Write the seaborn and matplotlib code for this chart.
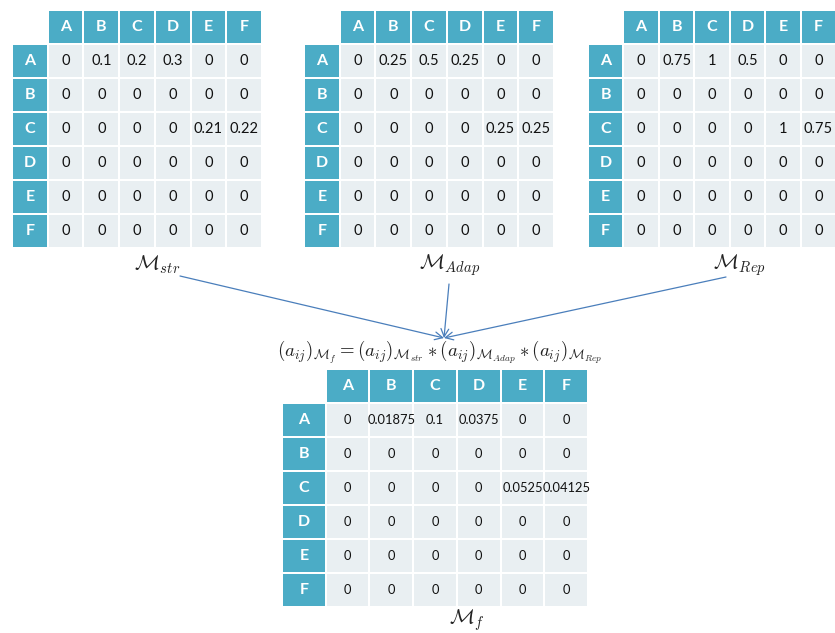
import numpy as np
import matplotlib
matplotlib.use("Agg")
import matplotlib.pyplot as plt
import seaborn as sns
from matplotlib.colors import ListedColormap

sns.set_theme(style="white")
plt.rcParams['font.family'] = ['Lato', 'DejaVu Sans']
plt.rcParams['mathtext.fontset'] = 'cm'

# data
labels = ['A', 'B', 'C', 'D', 'E', 'F']

m_str = [[0, 0.1, 0.2, 0.3, 0, 0],
         [0, 0, 0, 0, 0, 0],
         [0, 0, 0, 0, 0.21, 0.22],
         [0, 0, 0, 0, 0, 0],
         [0, 0, 0, 0, 0, 0],
         [0, 0, 0, 0, 0, 0]]

m_adap = [[0, 0.25, 0.5, 0.25, 0, 0],
          [0, 0, 0, 0, 0, 0],
          [0, 0, 0, 0, 0.25, 0.25],
          [0, 0, 0, 0, 0, 0],
          [0, 0, 0, 0, 0, 0],
          [0, 0, 0, 0, 0, 0]]

m_rep = [[0, 0.75, 1, 0.5, 0, 0],
         [0, 0, 0, 0, 0, 0],
         [0, 0, 0, 0, 1, 0.75],
         [0, 0, 0, 0, 0, 0],
         [0, 0, 0, 0, 0, 0],
         [0, 0, 0, 0, 0, 0]]

m_f = [[0, 0.01875, 0.1, 0.0375, 0, 0],
       [0, 0, 0, 0, 0, 0],
       [0, 0, 0, 0, 0.0525, 0.04125],
       [0, 0, 0, 0, 0, 0],
       [0, 0, 0, 0, 0, 0],
       [0, 0, 0, 0, 0, 0]]

W, H = 835, 633
teal = '#4bacc6'
light = '#e9eff2'
arrow_col = '#4a7ebb'

fig = plt.figure(figsize=(W / 100, H / 100), dpi=100)


def draw_table(vals, x0, y0, w, h, fs=10.5):
    ax = fig.add_axes([x0 / W, 1 - (y0 + h) / H, w / W, h / H])
    grid = np.zeros((7, 7))
    grid[0, :] = 1
    grid[:, 0] = 1
    mask = np.zeros((7, 7), dtype=bool)
    mask[0, 0] = True
    annot = np.empty((7, 7), dtype=object)
    annot[0, 0] = ''
    for i in range(6):
        annot[0, i + 1] = labels[i]
        annot[i + 1, 0] = labels[i]
        for j in range(6):
            annot[i + 1, j + 1] = f"{vals[i][j]:g}"
    sns.heatmap(grid, mask=mask, cmap=ListedColormap([light, teal]), vmin=0, vmax=1,
                annot=annot, fmt='', cbar=False, linewidths=1.1, linecolor='white',
                xticklabels=False, yticklabels=False, ax=ax,
                annot_kws={'fontsize': fs, 'color': '#1a1a1a'})
    for t in ax.texts:
        x, y = t.get_position()
        if x < 1 or y < 1:
            t.set_color('white')
            t.set_fontweight('bold')
            t.set_fontsize(11.5)
        else:
            t.set_color('#111111')
    return ax


draw_table(m_str, 12, 10, 250, 238)
draw_table(m_adap, 304, 10, 250, 238)
draw_table(m_rep, 588, 10, 248, 238)
draw_table(m_f, 282, 369, 306, 238, fs=9.3)

# overlay for labels and arrows (pixel coords)
ov = fig.add_axes([0, 0, 1, 1], facecolor='none')
ov.set_xlim(0, W)
ov.set_ylim(H, 0)
ov.axis('off')

ov.text(157, 265, r'$\mathcal{M}_{str}$', fontsize=15, ha='center', va='center', color='#222222')
ov.text(450, 265, r'$\mathcal{M}_{Adap}$', fontsize=15, ha='center', va='center', color='#222222')
ov.text(739, 265, r'$\mathcal{M}_{Rep}$', fontsize=15, ha='center', va='center', color='#222222')
ov.text(467, 620, r'$\mathcal{M}_f$', fontsize=15, ha='center', va='center', color='#222222')
ov.text(440, 352, r'$(a_{ij})_{\mathcal{M}_f} = (a_{ij})_{\mathcal{M}_{str}} * (a_{ij})_{\mathcal{M}_{Adap}} * (a_{ij})_{\mathcal{M}_{Rep}}$',
        fontsize=13.5, ha='center', va='center', color='#222222')

target = (444, 338)
for start in [(180, 276), (449, 284), (726, 277)]:
    ov.annotate('', xy=target, xytext=start,
                arrowprops=dict(arrowstyle='->', color=arrow_col, lw=0.9,
                                shrinkA=0, shrinkB=0, mutation_scale=14))

fig.savefig('out.png', dpi=100)
